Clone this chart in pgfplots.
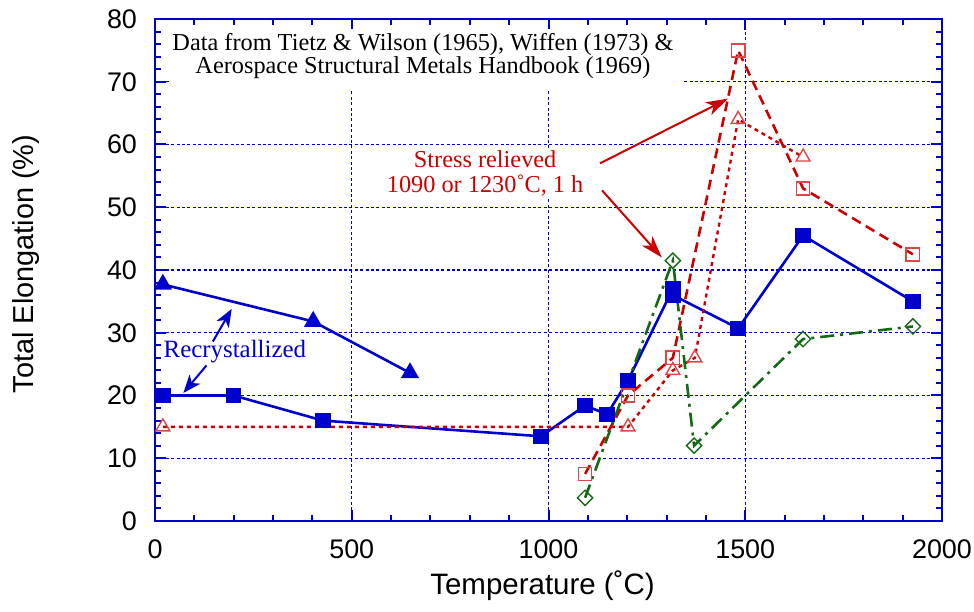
\documentclass[border=0pt]{standalone}
\usepackage{pgfplots}
\pgfplotsset{compat=1.18}
\usepackage{fontspec}
\setmainfont{Liberation Serif}
\setsansfont{Liberation Sans}
\usetikzlibrary{arrows.meta}

\definecolor{pblue}{RGB}{0,0,204}
\definecolor{pred}{RGB}{204,0,0}
\definecolor{pmred}{RGB}{220,70,70}
\definecolor{pgreen}{RGB}{20,105,20}

\begin{document}
\begin{tikzpicture}
\begin{axis}[
  at={(0,0)}, anchor=south west,
  scale only axis, width=393.5bp, height=251bp,
  xmin=0, xmax=2000, ymin=0, ymax=80,
  xtick={0,500,...,2000}, ytick={0,10,...,80},
  minor x tick num=4, minor y tick num=4,
  tick align=inside,
  major tick length=5.5bp, minor tick length=3.2bp,
  axis line style={pblue, line width=1bp},
  every tick/.style={pblue, line width=1bp},
  grid=major,
  major grid style={pblue, line width=0.6bp, dash pattern=on 1.5bp off 1.2bp},
  tick label style={font=\fontsize{13.5}{16}\sffamily},
  /pgf/number format/assume math mode=true,
  /pgf/number format/1000 sep={},
  xticklabel style={yshift=-6bp},
  yticklabel style={xshift=-5.5bp},
  xlabel={Temperature (˚C)},
  ylabel={Total Elongation (\%)},
  xlabel style={font=\fontsize{14.8}{16}\sffamily, at={(axis description cs:0.4924,-0.1474)}, anchor=base},
  ylabel style={font=\fontsize{14.5}{16}\sffamily, at={(axis description cs:-0.155,0.512)}, anchor=base, rotate=0},
]
% recrystallized squares
\addplot[pblue, line width=1.3bp, mark=square*, mark size=3.2bp, mark options={solid}]
 coordinates {(20,20)(200,20)(427,16)(981,13.5)(1093,18.4)(1149,17)(1202,22.4)(1316,37)(1316,36)(1482,30.7)(1647,45.5)(1926,35)};
% recrystallized triangles
\addplot[pblue, line width=1.3bp, mark=triangle*, mark size=4bp, mark options={solid}]
 coordinates {(20,37.7)(402,31.8)(648,23.6)};
% stress relieved squares
\addplot[pred, line width=1.3bp, dash pattern=on 5bp off 3bp, mark=square, mark size=3.3bp, mark options={solid, draw=pmred, line width=0.8bp}]
 coordinates {(1093,7.5)(1202,20)(1316,26)(1482,75)(1647,53)(1926,42.5)};
% stress relieved triangles
\addplot[pred, line width=1.2bp, dash pattern=on 2bp off 2bp, mark=triangle, mark size=4bp, mark options={solid, draw=pmred, line width=0.7bp}]
 coordinates {(20,15)(1202,15)(1316,24)(1372,26)(1482,64)(1647,58)};
% diamonds
\addplot[pgreen, line width=1.3bp, dash pattern=on 7bp off 3bp on 1.5bp off 3bp, mark=square, mark size=2.7bp, mark options={solid, rotate=45, line width=0.7bp}]
 coordinates {(1093,3.7)(1316,41.5)(1370,12)(1647,29)(1926,31)};

\fill[white] (axis cs:38,68.7) rectangle (axis cs:1339,78.4);
\node[font=\fontsize{12.2}{11.8}\selectfont, align=center] at (axis cs:681,74.1)
 {Data from Tietz \& Wilson (1965), Wiffen (1973) \&\\Aerospace Structural Metals Handbook (1969)};

\node[fill=white, inner sep=1.5bp, text=pred, align=center, font=\fontsize{12.2}{12.5}\selectfont] at (axis cs:839,55.4)
 {Stress relieved\\1090 or 1230˚C, 1 h};
\draw[pred, line width=1bp, -{Stealth[length=11bp, width=7bp, inset=3bp]}] (axis cs:1131,57) -- (axis cs:1456,67.3);
\draw[pred, line width=1bp, -{Stealth[length=11bp, width=7bp, inset=3bp]}] (axis cs:1136,52.7) -- (axis cs:1288,42);

\node[fill=white, inner sep=1bp, text=pblue, font=\fontsize{12.5}{14}\selectfont] at (axis cs:203,27) {Recrystallized};
\draw[pblue, line width=1bp, -{Stealth[length=9bp, width=7bp, inset=2.5bp]}] (axis cs:147,28.6) -- (axis cs:195,33.8);
\draw[pblue, line width=1bp, -{Stealth[length=9bp, width=7bp, inset=2.5bp]}] (axis cs:131,24.8) -- (axis cs:72,20.4);
\end{axis}
\pgfresetboundingbox
\path[use as bounding box] (-77.5bp,-45.5bp) rectangle (409.5bp,260.5bp);
\end{tikzpicture}
\end{document}
